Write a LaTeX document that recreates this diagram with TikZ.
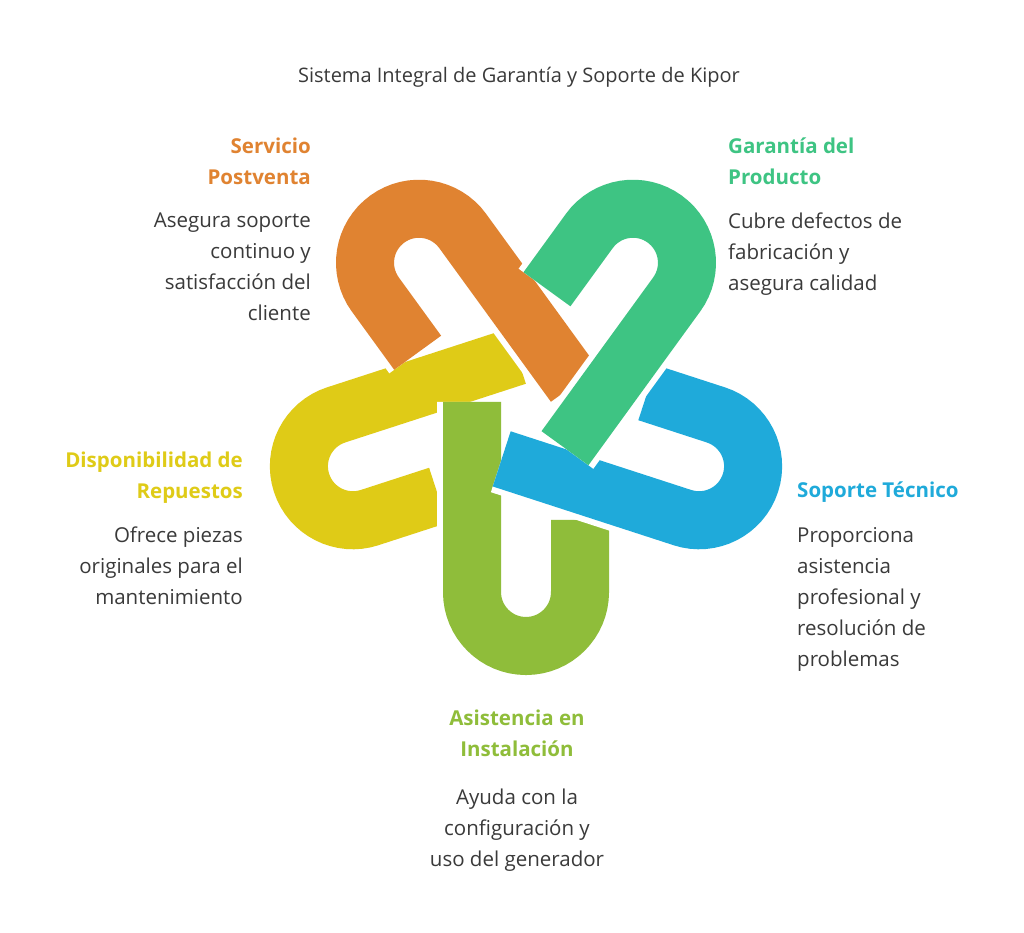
\documentclass[tikz,border=0pt]{standalone}
\usepackage{fontspec}
\setmainfont{Open Sans}
\definecolor{cOr}{HTML}{E08331}
\definecolor{cGr}{HTML}{3EC483}
\definecolor{cBl}{HTML}{1FAADA}
\definecolor{cLi}{HTML}{8FBD3A}
\definecolor{cYe}{HTML}{DFCB17}
\definecolor{cTx}{HTML}{3A3A3A}
\newcommand\kipU[2]{%
  \draw[white,line width=70pt] (#1:182) ++(#1-90:54) ++(#1+180:190) -- ++(#1:190)
     arc[start angle=#1-90,end angle=#1+90,radius=54] -- ++(#1+180:72);
  \draw[#2,line width=58pt] (#1:182) ++(#1-90:54) ++(#1+180:190) -- ++(#1:190)
     arc[start angle=#1-90,end angle=#1+90,radius=54] -- ++(#1+180:72);}
\begin{document}
\begin{tikzpicture}[x=1pt,y=1pt,
  hd/.style={font=\bfseries\fontsize{20.5}{30.5}\selectfont,inner sep=0pt},
  bd/.style={font=\fontsize{20.5}{31}\selectfont,text=cTx,inner sep=0pt}]
\useasboundingbox[fill=white] (-526,-523) rectangle (498,410);
\kipU{198}{cYe}
\kipU{270}{cLi}
\kipU{-18}{cBl}
\kipU{126}{cOr}
\kipU{54}{cGr}
\node[font=\fontsize{20}{24}\selectfont,text=cTx] (title) at (-7,333) {Sistema Integral de Garantía y Soporte de Kipor};
\node[hd,text=cOr,align=right,anchor=north east] (h1) at (-215,272) {Servicio\\Postventa};
\node[bd,align=right,anchor=north east] (b1) at (-215,197) {Asegura soporte\\continuo y\\satisfacción del\\cliente};
\node[hd,text=cGr,align=left,anchor=north west] (h2) at (202,272) {Garantía del\\Producto};
\node[bd,align=left,anchor=north west] (b2) at (202,197) {Cubre defectos de\\fabricación y\\asegura calidad};
\node[hd,text=cYe,align=right,anchor=north east] (h3) at (-283,-42) {Disponibilidad de\\Repuestos};
\node[bd,align=right,anchor=north east] (b3) at (-283,-117) {Ofrece piezas\\originales para el\\mantenimiento};
\node[hd,text=cBl,align=left,anchor=north west] (h4) at (271,-72) {Soporte Técnico};
\node[bd,align=left,anchor=north west] (b4) at (271,-117) {Proporciona\\asistencia\\profesional y\\resolución de\\problemas};
\node[hd,text=cLi,align=center,anchor=north] (h5) at (-9,-300) {Asistencia en\\Instalación};
\node[bd,align=center,anchor=north] (b5) at (-9,-379) {Ayuda con la\\configuración y\\uso del generador};
\end{tikzpicture}
\end{document}
